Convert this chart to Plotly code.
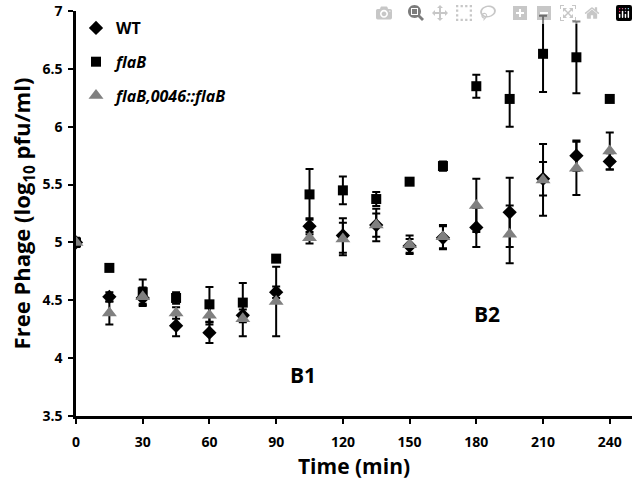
import plotly.graph_objects as go

times = [0, 15, 30, 45, 60, 75, 90, 105, 120, 135, 150, 165, 180, 195, 210, 225, 240]

wt = [5.00, 4.53, 4.52, 4.28, 4.22, 4.37, 4.57, 5.14, 5.06, 5.15, 4.97, 5.04, 5.13, 5.26, 5.55, 5.75, 5.70]
wt_err = [0.03, 0.04, 0.05, 0.09, 0.09, 0.05, 0.05, 0.07, 0.15, 0.10, 0.06, 0.10, 0.17, 0.30, 0.145, 0.13, 0.07]

flab = [5.00, 4.78, 4.57, 4.52, 4.465, 4.48, 4.86, 5.415, 5.45, 5.375, 5.525, 5.66, 6.35, 6.24, 6.63, 6.60, 6.24]
flab_err = [0.02, 0.02, 0.11, 0.05, 0.15, 0.17, 0.02, 0.22, 0.12, 0.06, 0.02, 0.04, 0.10, 0.24, 0.33, 0.31, 0.02]

comp = [5.00, 4.39, 4.53, 4.39, 4.37, 4.34, 4.49, 5.04, 5.03, 5.15, 4.98, 5.05, 5.32, 5.07, 5.54, 5.64, 5.79]
comp_err = [0.04, 0.10, 0.08, 0.05, 0.08, 0.15, 0.30, 0.05, 0.14, 0.14, 0.08, 0.10, 0.23, 0.25, 0.31, 0.23, 0.16]

names = ["<b>WT</b>", "<b><i>flaB</i></b>", "<b><i>flaB,0046::flaB</i></b>"]
x_ticks = [0, 30, 60, 90, 120, 150, 180, 210, 240]
y_ticks = [3.5, 4, 4.5, 5, 5.5, 6, 6.5, 7]

FONT = "'Open Sans', Lato, sans-serif"

fig = go.Figure()

def add(y, err, name, symbol, color, size, group):
    fig.add_trace(go.Scatter(
        x=times, y=y, mode="markers", name=name, legendgroup=group,
        marker=dict(symbol=symbol, color=color, size=size, line=dict(width=0)),
        error_y=dict(type="data", array=err, visible=True, color="black", thickness=2, width=4),
    ))

add(wt, wt_err, names[0], "diamond", "black", 11, "a")
add(flab, flab_err, names[1], "square", "black", 10, "b")
add(comp, comp_err, names[2], "triangle-up", "#808080", 13, "c")

fig.add_annotation(x=102, y=3.855, text="<b>B1</b>", showarrow=False,
                   font=dict(size=21, color="black", family=FONT))
fig.add_annotation(x=185, y=4.38, text="<b>B2</b>", showarrow=False,
                   font=dict(size=21, color="black", family=FONT))

fig.update_layout(
    width=638, height=492,
    margin=dict(l=76, r=6, t=11, b=76),
    paper_bgcolor="white", plot_bgcolor="white",
    font=dict(family=FONT, color="black"),
    showlegend=True,
    legend=dict(x=0.0, y=1.0, xanchor="left", yanchor="top",
                bgcolor="rgba(0,0,0,0)", font=dict(size=16, family=FONT),
                tracegroupgap=10, itemwidth=30),
    xaxis=dict(range=[0, 250], tickvals=x_ticks, ticktext=[f"<b>{v}</b>" for v in x_ticks],
               showgrid=False, zeroline=False, showline=True, linecolor="black", linewidth=2.5,
               ticks="outside", ticklen=5, tickwidth=2, tickcolor="black",
               tickfont=dict(size=14, family=FONT), ticklabelstandoff=6, automargin=False,
               ticklabeloverflow="allow",
               title=dict(text="<b>Time (min)</b>", font=dict(size=21, family=FONT), standoff=10)),
    yaxis=dict(range=[3.5, 7], tickvals=y_ticks, ticktext=[f"<b>{v:g}</b>" for v in y_ticks],
               showgrid=False, zeroline=False, showline=True, linecolor="black", linewidth=2.5,
               ticks="outside", ticklen=5, tickwidth=2, tickcolor="black",
               tickfont=dict(size=14, family=FONT), ticklabelstandoff=3, automargin=False,
               ticklabeloverflow="allow",
               title=dict(text="<b>Free Phage (log<sub>10</sub> pfu/ml)</b>",
                          font=dict(size=22, family=FONT), standoff=6)),
)

fig.write_html("out.html", post_script="document.body.style.margin='0px';")
